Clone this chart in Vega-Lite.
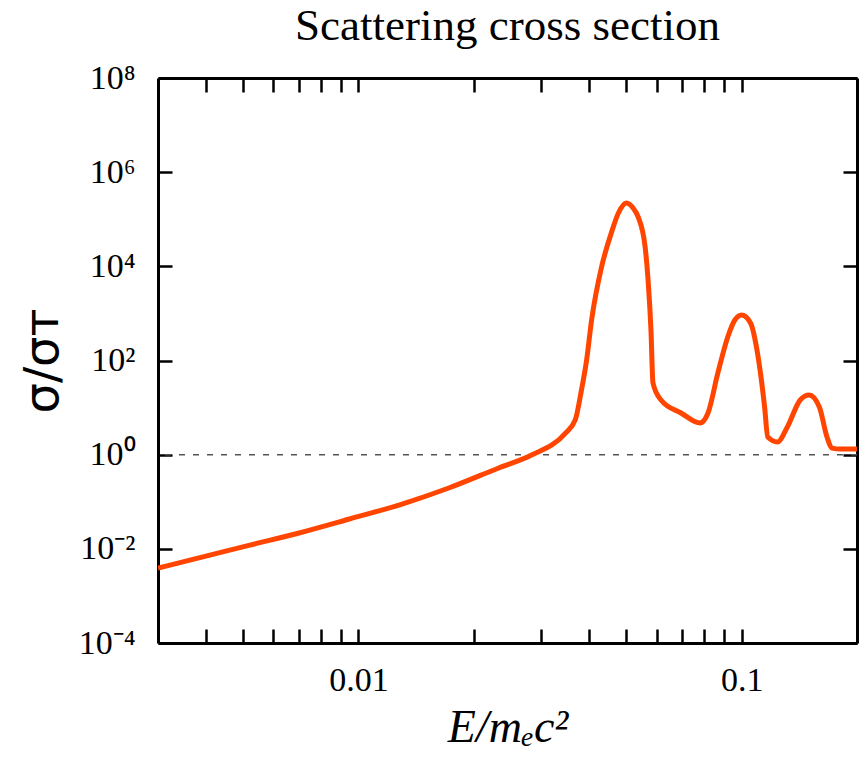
{
  "$schema": "https://vega.github.io/schema/vega-lite/v6.json",
  "width": 699,
  "height": 565,
  "autosize": {"type": "none"},
  "padding": {"left": 158, "top": 78, "right": 2, "bottom": 119},
  "background": "white",
  "title": {"text": "Scattering cross section", "font": "Liberation Serif", "fontSize": 45, "fontWeight": "normal", "color": "black", "offset": 12},
  "config": {
    "view": {"stroke": null},
    "axis": {
      "domainColor": "black", "domainWidth": 3, "tickColor": "black", "tickWidth": 2.5, "tickSize": -14,
      "grid": false, "labelFont": "Liberation Serif", "labelFontSize": 34, "labelColor": "black",
      "labelOverlap": false, "labelFlush": false, "labelBound": false
    }
  },
  "datasets": {
    "curve": [
      {"E": 0.003, "s": 0.0039},
      {"E": 0.004, "s": 0.007},
      {"E": 0.00521, "s": 0.012},
      {"E": 0.007, "s": 0.0217},
      {"E": 0.00948, "s": 0.043},
      {"E": 0.013, "s": 0.0895},
      {"E": 0.01722, "s": 0.196},
      {"E": 0.02323, "s": 0.521},
      {"E": 0.0283, "s": 0.98},
      {"E": 0.0347, "s": 2.88},
      {"E": 0.0368, "s": 5.45},
      {"E": 0.0382, "s": 23.6},
      {"E": 0.0394, "s": 102},
      {"E": 0.0406, "s": 724},
      {"E": 0.0431, "s": 9680},
      {"E": 0.0457, "s": 51000},
      {"E": 0.0477, "s": 136000},
      {"E": 0.05, "s": 221000},
      {"E": 0.0521, "s": 173000},
      {"E": 0.0537, "s": 112000},
      {"E": 0.056, "s": 25800},
      {"E": 0.057, "s": 5130},
      {"E": 0.058, "s": 444},
      {"E": 0.0587, "s": 33.3},
      {"E": 0.0616, "s": 14.5},
      {"E": 0.0695, "s": 7.67},
      {"E": 0.0779, "s": 4.71},
      {"E": 0.0817, "s": 7.67},
      {"E": 0.0867, "s": 54.3},
      {"E": 0.092, "s": 315},
      {"E": 0.096, "s": 724},
      {"E": 0.1, "s": 925},
      {"E": 0.1055, "s": 626},
      {"E": 0.11, "s": 144},
      {"E": 0.1148, "s": 10.3},
      {"E": 0.117, "s": 2.37},
      {"E": 0.124, "s": 1.86},
      {"E": 0.1316, "s": 3.87},
      {"E": 0.1422, "s": 14.5},
      {"E": 0.15, "s": 18.5},
      {"E": 0.1595, "s": 10.3},
      {"E": 0.167, "s": 2.37},
      {"E": 0.172, "s": 1.38},
      {"E": 0.181, "s": 1.32},
      {"E": 0.2, "s": 1.32}
    ],
    "reference": [{"level": 1}]
  },
  "layer": [
    {
      "data": {"name": "reference"},
      "mark": {"type": "rule", "color": "#555555", "strokeWidth": 1.5, "strokeDash": [6, 8]},
      "encoding": {
        "y": {"field": "level", "type": "quantitative", "scale": {"type": "log", "domain": [0.0001, 100000000]}, "axis": null}
      }
    },
    {
      "data": {"name": "curve"},
      "mark": {"type": "line", "color": "#FF4500", "strokeWidth": 5, "interpolate": "monotone", "clip": true},
      "encoding": {
        "x": {
          "field": "E", "type": "quantitative",
          "scale": {"type": "log", "domain": [0.003, 0.2], "nice": false},
          "axis": {
            "orient": "bottom",
            "values": [0.004, 0.005, 0.006, 0.007, 0.008, 0.009, 0.01, 0.02, 0.03, 0.04, 0.05, 0.06, 0.07, 0.08, 0.09, 0.1],
            "labelExpr": "datum.value == 0.01 ? '0.01' : (datum.value == 0.1 ? '0.1' : '')",
            "labelPadding": 34,
            "title": "E/mₑc²",
            "titleFont": "Liberation Serif", "titleFontStyle": "italic", "titleFontWeight": "normal", "titleFontSize": 46, "titleColor": "black",
            "titlePadding": 8
          }
        },
        "y": {
          "field": "s", "type": "quantitative",
          "scale": {"type": "log", "domain": [0.0001, 100000000], "nice": false},
          "axis": {
            "orient": "left",
            "values": [0.0001, 0.01, 1, 100, 10000, 1000000, 100000000],
            "labelExpr": "datum.value < 0.001 ? '10⁻⁴' : datum.value < 0.1 ? '10⁻²' : datum.value < 10 ? '10⁰' : datum.value < 1000 ? '10²' : datum.value < 100000 ? '10⁴' : datum.value < 10000000 ? '10⁶' : '10⁸'",
            "labelPadding": 37,
            "title": "σ/σᴛ",
            "titleFont": "DejaVu Sans", "titleFontWeight": "normal", "titleFontSize": 48, "titleColor": "black",
            "titlePadding": 11
          }
        }
      }
    },
    {
      "data": {"name": "curve"},
      "mark": {"type": "line", "strokeOpacity": 0},
      "encoding": {
        "x": {
          "field": "E", "type": "quantitative",
          "axis": {
            "orient": "top", "labels": false, "title": null,
            "values": [0.004, 0.005, 0.006, 0.007, 0.008, 0.009, 0.01, 0.02, 0.03, 0.04, 0.05, 0.06, 0.07, 0.08, 0.09, 0.1]
          }
        },
        "y": {
          "field": "s", "type": "quantitative",
          "axis": {
            "orient": "right", "labels": false, "title": null,
            "values": [0.0001, 0.01, 1, 100, 10000, 1000000, 100000000]
          }
        }
      }
    }
  ],
  "resolve": {"axis": {"x": "independent", "y": "independent"}}
}
